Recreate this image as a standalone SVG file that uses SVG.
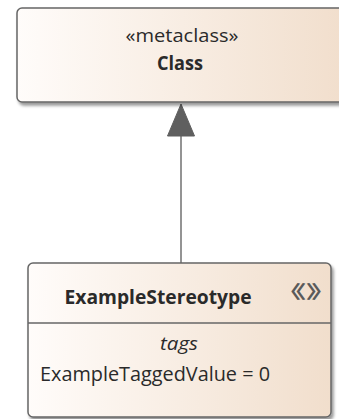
<svg xmlns="http://www.w3.org/2000/svg" width="339" height="419" viewBox="0 0 339 419">
  <defs>
    <linearGradient id="fill" x1="0" y1="0" x2="1" y2="0">
      <stop offset="0" stop-color="#fffcfa"/>
      <stop offset="1" stop-color="#f1decc"/>
    </linearGradient>
    <filter id="shadow" x="-10%" y="-10%" width="130%" height="130%">
      <feDropShadow dx="2" dy="3" stdDeviation="1.5" flood-color="#000" flood-opacity="0.4"/>
    </filter>
  </defs>
  <style>
    .box { fill: url(#fill); stroke: #666666; stroke-width: 1.5; filter: url(#shadow); }
    .txt { font-family: "Open Sans", "Noto Sans", sans-serif; fill: #2a2a2a; }
    .b { font-weight: bold; }
    .conn { stroke: #707070; stroke-width: 1.5; fill: none; }
    .head { fill: #5f5f5f; stroke: #5f5f5f; stroke-width: 1; }
    .sym { font-family: "Noto Sans CJK JP", sans-serif; fill: #5a5a5a; font-size: 18px; font-weight: bold; }
  </style>

  <g id="connectors">
    <line class="conn" x1="181" y1="136" x2="181" y2="263"/>
    <polygon class="head" points="181,104 167.5,136 194.5,136"/>
  </g>

  <g id="node-class">
    <rect class="box" x="17" y="8" width="331" height="94" rx="5" ry="5"/>
    <text class="txt" x="182" y="42" font-size="19" text-anchor="middle" textLength="113" lengthAdjust="spacingAndGlyphs">«metaclass»</text>
    <text class="txt b" x="180" y="70" font-size="19" text-anchor="middle" textLength="46" lengthAdjust="spacingAndGlyphs">Class</text>
  </g>

  <g id="node-stereotype">
    <rect class="box" x="28" y="263" width="303" height="154" rx="5" ry="5"/>
    <line x1="28" y1="323" x2="331" y2="323" stroke="#666666" stroke-width="1.5"/>
    <text class="txt b" x="158" y="304" font-size="19" text-anchor="middle" textLength="187" lengthAdjust="spacingAndGlyphs">ExampleStereotype</text>
    <text class="sym" transform="translate(306,298) scale(1.7,1)" text-anchor="middle">《》</text>
    <text class="txt" x="179" y="350" font-size="19" font-style="italic" text-anchor="middle" textLength="38" lengthAdjust="spacingAndGlyphs">tags</text>
    <text class="txt" x="40" y="381" font-size="20" textLength="230" lengthAdjust="spacingAndGlyphs">ExampleTaggedValue = 0</text>
  </g>
</svg>
